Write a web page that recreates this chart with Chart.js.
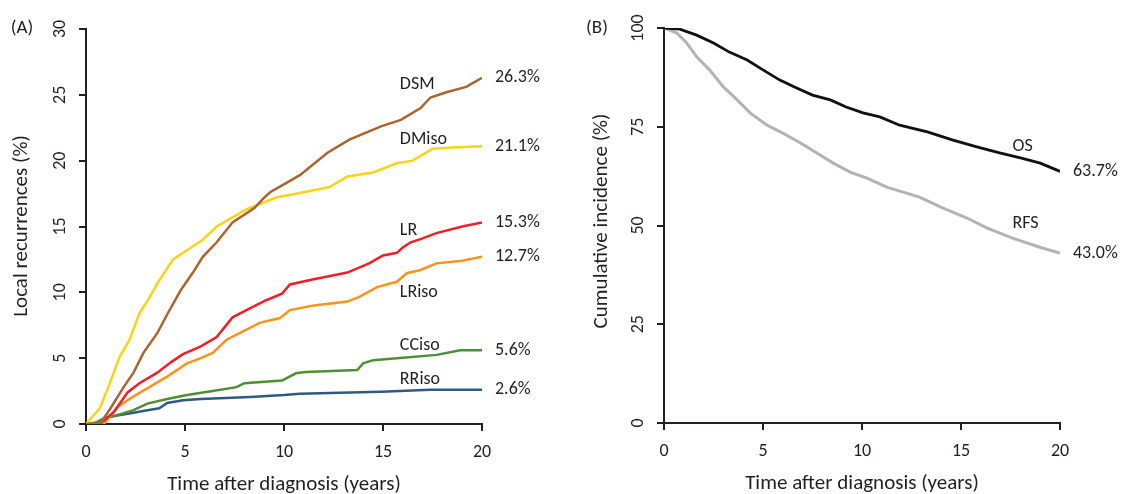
<!DOCTYPE html>
<html>
<head>
<meta charset="utf-8">
<script src="https://cdn.jsdelivr.net/npm/chart.js@4.4.0/dist/chart.umd.min.js"></script>
<style>
  body { margin: 0; background: #fff; }
  #wrap { position: relative; width: 1123px; height: 494px; overflow: hidden; }
  .panel { position: absolute; top: 0; height: 494px; }
  #panelA { left: 0; width: 560px; }
  #panelB { left: 560px; width: 563px; }
</style>
</head>
<body>
<div id="wrap">
  <div class="panel" id="panelA"><canvas id="chartA"></canvas></div>
  <div class="panel" id="panelB"><canvas id="chartB"></canvas></div>
</div>
<script>
// Panel A: local recurrences by type (years, %)
const dsmTime = [0, 0.7, 1.2, 1.9, 2.4, 2.9, 3.6, 4.2, 4.8, 5.4, 5.9, 6.6, 7.4, 8.5, 9.0, 9.3, 10.1, 10.8, 12.2, 13.3, 14.9, 15.9, 16.9, 17.4, 18.2, 19.2, 20];
const dsmPct = [0, 0, 1.1, 2.8, 3.9, 5.4, 6.9, 8.6, 10.2, 11.5, 12.7, 13.8, 15.3, 16.4, 17.2, 17.6, 18.3, 18.9, 20.6, 21.6, 22.6, 23.1, 24.0, 24.8, 25.2, 25.6, 26.3];

const dmisoTime = [0, 0.7, 1.2, 1.7, 2.2, 2.7, 3.2, 3.7, 4.4, 5.1, 5.9, 6.6, 8.1, 9.6, 11.0, 12.3, 13.2, 14.5, 15.7, 16.5, 17.5, 18.5, 20];
const dmisoPct = [0, 1.2, 3.1, 5.1, 6.4, 8.4, 9.6, 10.9, 12.5, 13.2, 14.0, 15.0, 16.3, 17.2, 17.6, 18.0, 18.8, 19.1, 19.8, 20.0, 20.9, 21.0, 21.1];

const lrTime = [0, 0.7, 1.4, 2.1, 2.7, 3.6, 4.3, 4.9, 5.8, 6.6, 7.4, 8.3, 9.1, 9.9, 10.3, 11.5, 13.2, 14.3, 15.0, 15.7, 16.0, 16.4, 17.0, 17.7, 19.0, 20];
const lrPct = [0, 0, 0.9, 2.4, 3.1, 3.9, 4.7, 5.3, 5.9, 6.6, 8.1, 8.8, 9.4, 9.9, 10.6, 11.0, 11.5, 12.2, 12.8, 13.0, 13.4, 13.8, 14.1, 14.5, 15.0, 15.3];

const lrisoTime = [0, 0.9, 1.6, 2.4, 3.2, 4.1, 5.1, 5.8, 6.4, 7.1, 8.0, 8.8, 9.8, 10.3, 11.5, 13.2, 13.8, 14.7, 15.7, 16.2, 16.9, 17.7, 19.0, 20];
const lrisoPct = [0, 0, 1.3, 2.1, 2.8, 3.6, 4.6, 5.0, 5.4, 6.4, 7.1, 7.7, 8.05, 8.65, 9.0, 9.3, 9.65, 10.4, 10.8, 11.45, 11.7, 12.2, 12.4, 12.7];

const ccisoTime = [0, 0.5, 0.9, 1.4, 2.4, 3.1, 4.1, 5.1, 6.4, 7.6, 8.0, 9.9, 10.6, 11.1, 13.7, 14.0, 14.5, 15.7, 17.7, 18.9, 20];
const ccisoPct = [0, 0.1, 0.45, 0.6, 1.05, 1.55, 1.9, 2.2, 2.5, 2.8, 3.1, 3.3, 3.85, 3.95, 4.1, 4.6, 4.85, 5.0, 5.25, 5.6, 5.6];

const rrisoTime = [0, 0.5, 1.2, 2.4, 3.1, 3.7, 4.1, 4.9, 5.8, 8.3, 10.0, 10.8, 14.9, 17.4, 20];
const rrisoPct = [0, 0.1, 0.55, 0.85, 1.05, 1.2, 1.6, 1.8, 1.9, 2.05, 2.2, 2.3, 2.45, 2.6, 2.6];

// Panel B: overall survival and recurrence-free survival (years, %)
const osTime = [0, 0.8, 1.65, 2.5, 3.3, 4.2, 5.0, 5.85, 6.7, 7.5, 8.4, 9.2, 10.05, 10.9, 11.9, 13.3, 14.6, 15.8, 17.0, 18.0, 19.0, 20];
const osPct = [100, 99.7, 98.2, 96.2, 93.9, 91.9, 89.4, 86.8, 84.8, 83.0, 81.8, 80.0, 78.5, 77.5, 75.4, 73.7, 71.6, 69.9, 68.3, 67.1, 65.8, 63.7];

const rfsTime = [0, 0.65, 1.15, 1.65, 2.3, 3.0, 3.7, 4.35, 5.2, 6.0, 6.9, 7.7, 8.55, 9.4, 10.25, 11.25, 12.9, 14.1, 15.3, 16.3, 17.6, 19.1, 20];
const rfsPct = [100, 98.7, 96.2, 92.7, 89.4, 85.1, 81.8, 78.5, 75.4, 73.4, 70.9, 68.4, 65.8, 63.5, 62.0, 59.7, 57.2, 54.4, 51.9, 49.4, 46.8, 44.3, 43.0];

const xTicks = [0, 5, 10, 15, 20];
const yTicksA = [0, 5, 10, 15, 20, 25, 30];
const yTicksB = [0, 25, 50, 75, 100];

const FONT = "Carlito, Lato, sans-serif";
const TEXT = "#231f20";

function pts(t, v) {
  return t.map((x, i) => ({ x: x, y: v[i] }));
}

function series(name, t, v, color, width, labelAt) {
  return {
    label: name,
    data: pts(t, v),
    borderColor: color,
    borderWidth: width,
    pointRadius: 0,
    tension: 0,
    fill: false,
    labelAt: labelAt,
  };
}

// draws rotated y ticks, x ticks, titles, series names and end values
const textPlugin = {
  id: "texts",
  afterDraw(chart, args, opts) {
    const c = chart.ctx;
    const xs = chart.scales.x;
    const ys = chart.scales.y;
    const area = chart.chartArea;
    c.save();
    c.fillStyle = TEXT;

    c.font = "18px " + FONT;
    c.textAlign = "center";
    c.textBaseline = "middle";
    opts.xTicks.forEach((t) => {
      c.fillText(String(t), xs.getPixelForValue(t), area.bottom + 28);
    });
    opts.yTicks.forEach((t) => {
      c.save();
      c.translate(area.left - 26, ys.getPixelForValue(t));
      c.rotate(-Math.PI / 2);
      c.fillText(String(t), 0, 0);
      c.restore();
    });

    c.font = "21px " + FONT;
    c.fillText("Time after diagnosis (years)", (area.left + area.right) / 2, area.bottom + 61);
    c.save();
    c.translate(opts.titleX, opts.titleY);
    c.rotate(-Math.PI / 2);
    c.fillText(opts.yTitle, 0, 0);
    c.restore();

    c.font = "19px " + FONT;
    c.fillText(opts.letter, opts.letterX, 28);

    c.font = "18px " + FONT;
    c.textAlign = "left";
    chart.data.datasets.forEach((ds) => {
      const last = ds.data[ds.data.length - 1];
      c.fillText(last.y.toFixed(1) + "%", xs.getPixelForValue(last.x) + 13, ys.getPixelForValue(last.y));
      c.fillText(ds.label, xs.getPixelForValue(ds.labelAt[0]), ys.getPixelForValue(ds.labelAt[1]));
    });
    c.restore();
  },
};

function makePanel(id, datasets, yMax, yStep, padRight, yWidth, xHeight, top, textOpts) {
  const ctx = document.getElementById(id).getContext("2d");
  return new Chart(ctx, {
    type: "line",
    data: { datasets: datasets },
    plugins: [textPlugin],
    options: {
      responsive: true,
      maintainAspectRatio: false,
      animation: false,
      layout: { padding: { top: top, right: padRight, left: 0, bottom: 0 } },
      scales: {
        x: {
          type: "linear",
          min: 0,
          max: 20,
          ticks: { display: false, stepSize: 5 },
          grid: { drawOnChartArea: false, drawTicks: true, tickLength: 7, color: TEXT, lineWidth: 2 },
          border: { display: true, color: TEXT, width: 2 },
          afterFit: (s) => { s.height = xHeight; },
        },
        y: {
          min: 0,
          max: yMax,
          ticks: { display: false, stepSize: yStep },
          grid: { drawOnChartArea: false, drawTicks: true, tickLength: 7, color: TEXT, lineWidth: 2 },
          border: { display: true, color: TEXT, width: 2 },
          afterFit: (s) => { s.width = yWidth; },
        },
      },
      plugins: {
        legend: { display: false },
        tooltip: { enabled: false },
        texts: textOpts,
      },
    },
  });
}

makePanel("chartA", [
  series("DSM", dsmTime, dsmPct, "#a8652f", 2.5, [15.85, 25.8]),
  series("DMiso", dmisoTime, dmisoPct, "#f7d417", 2.5, [15.85, 21.6]),
  series("LR", lrTime, lrPct, "#ec2027", 2.5, [15.85, 14.7]),
  series("LRiso", lrisoTime, lrisoPct, "#f7941e", 2.5, [15.85, 9.95]),
  series("CCiso", ccisoTime, ccisoPct, "#4f8f32", 2.5, [15.85, 6.0]),
  series("RRiso", rrisoTime, rrisoPct, "#2f5a85", 2.5, [15.85, 3.4]),
], 30, 5, 78, 86, 70, 29, {
  xTicks: xTicks, yTicks: yTicksA, yTitle: "Local recurrences (%)", titleX: 22, titleY: 226, letter: "(A)", letterX: 22,
});

makePanel("chartB", [
  series("OS", osTime, osPct, "#111111", 2.8, [17.6, 70.1]),
  series("RFS", rfsTime, rfsPct, "#b3b3b3", 3, [17.6, 50.4]),
], 100, 25, 63, 104, 71, 28, {
  xTicks: xTicks, yTicks: yTicksB, yTitle: "Cumulative incidence (%)", titleX: 42, titleY: 221, letter: "(B)", letterX: 37,
});
</script>
</body>
</html>
